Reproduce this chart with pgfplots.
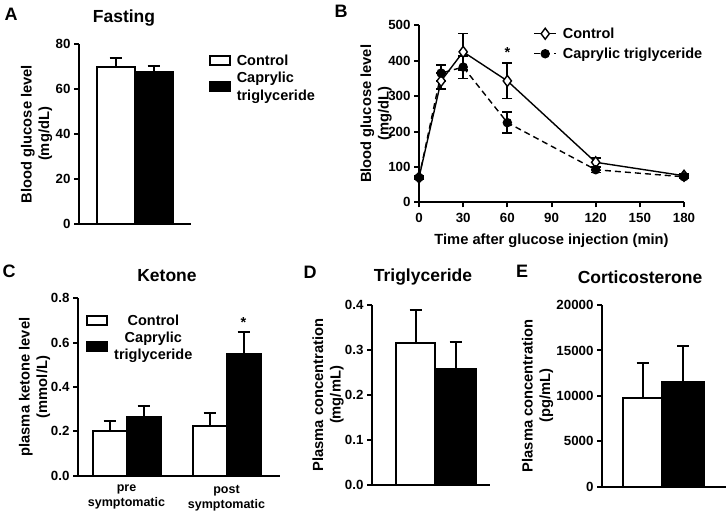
\documentclass[border=0pt]{standalone}
\usepackage{pgfplots}
\pgfplotsset{compat=1.18}
\usepackage{fontspec}
\setmainfont{Liberation Sans}

\pgfplotsset{
  panel/.style={
    scale only axis, anchor=south west,
    axis lines=left, axis line style={-, line width=2pt},
    tick align=outside, major tick length=5pt,
    every tick/.style={black, line width=2pt},
    tick label style={font=\fontsize{13.3}{16}\selectfont\bfseries},
    label style={font=\fontsize{14.7}{17.5}\selectfont\bfseries, align=center},
    ylabel style={at={(rel axis cs:0,0.5)}, anchor=center},
    /pgf/number format/assume math mode=true,
    scaled y ticks=false, clip=false,
  },
  barlegend/.style={
    legend cell align=left,
    legend style={draw=none, fill=none, font=\fontsize{14.5}{17.5}\selectfont\bfseries,
      cells={align=left}, row sep=1pt, column sep=4pt},
    legend image code/.code={\draw[#1, line width=2pt] (0pt,-4pt) rectangle (20pt,5pt);},
  },
  wbar/.style={ybar, bar shift=0pt, fill=white, draw=black, line width=2pt},
  kbar/.style={ybar, bar shift=0pt, fill=black, draw=black, line width=2pt},
  upbar/.style={error bars/.cd, y dir=plus, y explicit,
    error bar style={line width=2pt, black},
    error mark options={rotate=90, mark size=6pt, line width=2pt, black}},
}

\begin{document}
\begin{tikzpicture}
\useasboundingbox (0,0) rectangle (727pt,512pt);

% A fasting glucose
\begin{axis}[panel, barlegend, at={(79pt,288pt)}, width=112pt, height=180pt,
  xmin=0, xmax=112, ymin=0, ymax=80, ytick={0,20,40,60,80}, xtick=\empty,
  ylabel={Blood glucose level\\(mg/dL)}, ylabel style={yshift=42.5pt},
  legend style={at={(1.13,0.96)}, anchor=north west}]
\addplot[wbar, bar width=38, upbar] coordinates {(36.5,70) +- (0,4)};
\addplot[kbar, bar width=38, upbar] coordinates {(74.5,67.5) +- (0,2.7)};
\legend{Control, Caprylic\\triglyceride}
\end{axis}

% B glucose tolerance
\begin{axis}[panel, at={(419pt,309.7pt)}, width=265pt, height=177pt,
  xmin=0, xmax=180, ymin=0, ymax=500,
  xtick={0,30,60,90,120,150,180}, ytick={0,100,200,300,400,500},
  xticklabel style={yshift=-2pt},
  xlabel={Time after glucose injection (min)},
  xlabel style={at={(rel axis cs:0.5,0)}, anchor=center, yshift=-38pt},
  ylabel={Blood glucose level\\(mg/dL)}, ylabel style={yshift=43pt},
  legend cell align=left,
  legend image code/.code={\draw[mark repeat=2, mark phase=2, #1]
    plot coordinates {(0pt,0pt) (11pt,0pt) (22pt,0pt)};},
  legend style={at={(0.42,1.01)}, anchor=north west, draw=none, fill=none,
    font=\fontsize{14.5}{17.5}\selectfont\bfseries, row sep=4pt, column sep=4pt}]
\addplot[black, line width=1.4pt, mark=diamond*, mark size=5.5pt,
  mark options={fill=white, line width=1.4pt},
  error bars/.cd, y dir=both, y explicit,
  error bar style={line width=1.8pt},
  error mark options={rotate=90, mark size=5pt, line width=1.8pt}]
  coordinates {(0,70) +- (0,4) (15,343) +- (0,23) (30,425) +- (0,52)
    (60,343) +- (0,50) (120,113) +- (0,12) (180,75) +- (0,5)};
\addlegendentry{Control}
\addplot[black, line width=1.4pt, dash pattern=on 6pt off 4pt,
  mark=*, mark size=4pt, mark options={solid},
  error bars/.cd, y dir=both, y explicit,
  error bar style={line width=1.8pt, solid},
  error mark options={rotate=90, mark size=5pt, line width=1.8pt, solid}]
  coordinates {(0,70) +- (0,3) (15,365) +- (0,22) (30,382) +- (0,32)
    (60,225) +- (0,30) (120,92) +- (0,8) (180,72) +- (0,3)};
\addlegendentry{Caprylic triglyceride}
\node[font=\fontsize{14.5}{17}\selectfont\bfseries] at (axis cs:60,422) {*};
\end{axis}

% C ketone
\begin{axis}[panel, barlegend, at={(78pt,36.3pt)}, width=202pt, height=177.4pt,
  xmin=0, xmax=202, ymin=0, ymax=0.8, ytick={0,0.2,0.4,0.6,0.8},
  yticklabel style={/pgf/number format/.cd, fixed, fixed zerofill, precision=1},
  xtick={48.5,148.5}, xticklabels={pre\\symptomatic, post\\symptomatic},
  xticklabel style={align=center, font=\fontsize{12.5}{15}\selectfont\bfseries, yshift=-1pt},
  major x tick style={draw=none},
  ylabel={plasma ketone level\\(mmol/L)}, ylabel style={yshift=43.5pt},
  legend cell align=center,
  legend style={at={(0.025,0.93)}, anchor=north west, cells={align=center}}]
\addplot[wbar, bar width=34, upbar] coordinates {(31.5,0.2) +- (0,0.045) (131.5,0.225) +- (0,0.057)};
\addplot[kbar, bar width=34, upbar] coordinates {(65.5,0.265) +- (0,0.05) (165.5,0.548) +- (0,0.1)};
\legend{Control, Caprylic\\triglyceride}
\node[font=\fontsize{14.5}{17}\selectfont\bfseries] at (axis cs:165.5,0.69) {*};
\end{axis}

% D triglyceride
\begin{axis}[panel, at={(372pt,27pt)}, width=118pt, height=180pt,
  xmin=0, xmax=118, ymin=0, ymax=0.4, ytick={0,0.1,0.2,0.3,0.4}, xtick=\empty,
  yticklabel style={/pgf/number format/.cd, fixed, fixed zerofill, precision=1},
  ylabel={Plasma concentration\\(mg/mL)}, ylabel style={yshift=44pt}]
\addplot[wbar, bar width=39, upbar] coordinates {(43.5,0.315) +- (0,0.074)};
\addplot[kbar, bar width=41, upbar] coordinates {(83.5,0.257) +- (0,0.061)};
\end{axis}

% E corticosterone
\begin{axis}[panel, at={(602pt,25.3pt)}, width=124pt, height=181.7pt,
  xmin=0, xmax=124, ymin=0, ymax=20000, ytick={0,5000,10000,15000,20000}, xtick=\empty,
  yticklabel style={/pgf/number format/1000 sep={}},
  ylabel={Plasma concentration\\(pg/mL)}, ylabel style={yshift=64.5pt}]
\addplot[wbar, bar width=39, upbar] coordinates {(40.5,9800) +- (0,3850)};
\addplot[kbar, bar width=42, upbar] coordinates {(81,11490) +- (0,4000)};
\end{axis}

% titles and panel letters
\begin{scope}[every node/.style={font=\fontsize{17.5}{20}\selectfont\bfseries}]
\node at (124pt,494pt) {Fasting};
\node at (167pt,236pt) {Ketone};
\node at (423pt,235pt) {Triglyceride};
\node at (640pt,235pt) {Corticosterone};
\end{scope}
\begin{scope}[every node/.style={font=\fontsize{18}{21}\selectfont\bfseries}]
\node at (11pt,498pt) {A};
\node at (341pt,501pt) {B};
\node at (9pt,241pt) {C};
\node at (310pt,240pt) {D};
\node at (522pt,241pt) {E};
\end{scope}
\end{tikzpicture}
\end{document}
